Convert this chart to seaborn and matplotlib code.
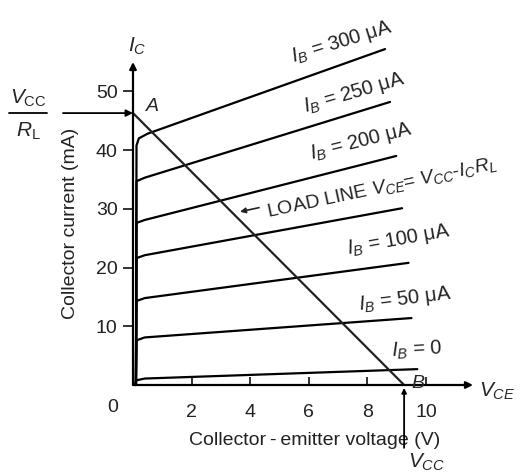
import pandas as pd
import seaborn as sns
import matplotlib.pyplot as plt

# collector characteristics (V, mA)
ib_names = ["0", "50", "100", "150", "200", "250", "300"]
vce_pts = [
    [0.05, 0.12, 0.4, 9.7],
    [0.1, 0.12, 0.4, 9.5],
    [0.1, 0.12, 0.4, 9.4],
    [0.1, 0.12, 0.4, 9.18],
    [0.1, 0.12, 0.4, 8.98],
    [0.1, 0.12, 0.4, 8.77],
    [0.1, 0.12, 0.2, 0.5, 8.6],
]
ic_pts = [
    [0.0, 0.8, 1.1, 2.7],
    [0.0, 7.6, 8.1, 11.4],
    [0.0, 14.3, 14.8, 20.8],
    [0.0, 21.6, 22.1, 30.1],
    [0.0, 27.6, 28.1, 39.0],
    [0.0, 34.7, 35.3, 48.2],
    [0.0, 40.8, 42.0, 42.8, 57.2],
]
load_v = [0.0, 9.25]
load_i = [46.3, 0.0]

curve_labels = [r"$I_B$ = 300 μA", r"$I_B$ = 250 μA", r"$I_B$ = 200 μA",
                r"$I_B$ = 100 μA", r"$I_B$ = 50 μA", r"$I_B$ = 0"]
label_v = [7.13, 7.54, 7.78, 9.05, 9.28, 9.7]
label_i = [58.4, 49.7, 41.4, 24.7, 14.6, 6.0]
label_rot = [17, 16, 14, 10, 7, 3]

rows = []
for name, vs, cs in zip(ib_names, vce_pts, ic_pts):
    for v, c in zip(vs, cs):
        rows.append({"IB": name, "VCE": v, "IC": c})
df = pd.DataFrame(rows)
load = pd.DataFrame({"VCE": load_v, "IC": load_i})

sns.set_style("white")
plt.rcParams["font.family"] = ["Liberation Sans", "DejaVu Sans"]
plt.rcParams["mathtext.fontset"] = "custom"
plt.rcParams["mathtext.rm"] = "Liberation Sans"
plt.rcParams["mathtext.it"] = "Liberation Sans:italic"

W, H = 522, 472
fig = plt.figure(figsize=(W / 100, H / 100), dpi=100)
ax = fig.add_axes([133 / W, 87 / H, 340 / W, 323 / H])

sns.lineplot(data=df, x="VCE", y="IC", units="IB", estimator=None, sort=False,
             color="black", lw=1.6, ax=ax, clip_on=False)
sns.lineplot(data=load, x="VCE", y="IC", color="#222222", lw=1.6, ax=ax)

ax.set_xlim(0, 11.6)
ax.set_ylim(0, 55)
for s in ax.spines.values():
    s.set_visible(False)

# axes drawn as arrows
ax.annotate("", xy=(11.6, 0), xytext=(0, 0), annotation_clip=False,
            arrowprops=dict(arrowstyle="-|>", color="black", lw=1.6, mutation_scale=10, shrinkA=0, shrinkB=0))
ax.annotate("", xy=(0, 55), xytext=(0, 0), annotation_clip=False,
            arrowprops=dict(arrowstyle="-|>", color="black", lw=1.6, mutation_scale=10, shrinkA=0, shrinkB=0))

ax.set_xticks([2, 4, 6, 8, 10])
ax.set_yticks([10, 20, 30, 40, 50])
ax.tick_params(axis="x", direction="in", length=6, width=1.3, pad=14, labelsize=14, colors="#222222")
ax.tick_params(axis="y", direction="out", length=7, width=1.3, pad=4, labelsize=14, colors="#222222")
ax.tick_params(left=True, bottom=True)

ax.set_xlabel("Collector\u2009-\u2009emitter voltage (V)", fontsize=14, color="#222222", labelpad=6)
ax.set_ylabel("Collector current (mA)", fontsize=14, color="#222222", labelpad=12)
ax.xaxis.set_label_coords(0.535, -0.145)

for txt, v, c, r in zip(curve_labels, label_v, label_i, label_rot):
    ax.text(v, c, txt, fontsize=14.5, rotation=r, rotation_mode="anchor",
            ha="center", va="center", color="#222222", clip_on=False)

ax.text(8.5, 33.6, "LOAD LINE $V_{CE}$= $V_{CC}$-$I_CR_L$", fontsize=14, rotation=12,
        rotation_mode="anchor", ha="center", va="center", color="#222222", clip_on=False)
ax.annotate("", xy=(3.65, 29.5), xytext=(4.3, 30.2),
            arrowprops=dict(arrowstyle="-|>", color="#222222", lw=1.2, mutation_scale=8, shrinkA=0, shrinkB=0))

ax.text(0.65, 47.4, "A", fontsize=14, style="italic", ha="center", va="center")
ax.text(9.73, 0.3, "B", fontsize=14, style="italic", ha="center", va="center")

fig.text(113 / W, 1 - 408 / H, "0", fontsize=14, ha="center", va="center", color="#222222")
fig.text(137 / W, 1 - 46 / H, "$I_C$", fontsize=15, ha="center", va="center")
fig.text(497 / W, 1 - 391 / H, "$V_{CE}$", fontsize=15, ha="center", va="center")
fig.text(427 / W, 1 - 462 / H, "$V_{CC}$", fontsize=15, ha="center", va="center")

# V_CC / R_L on the left
fig.text(28 / W, 1 - 98 / H, r"$V_{\rm CC}$", fontsize=15, ha="center", va="center")
fig.text(28 / W, 1 - 131 / H, r"$R_{\rm L}$", fontsize=15, ha="center", va="center")
fig.add_artist(plt.Line2D([9 / W, 47 / W], [1 - 113 / H, 1 - 113 / H], color="black", lw=1.3))
ax.annotate("", xy=(0, 46.3), xytext=(-70 / 29.3, 46.3), annotation_clip=False,
            arrowprops=dict(arrowstyle="-|>", color="black", lw=1.3, mutation_scale=10, shrinkA=0, shrinkB=0))

# V_CC arrow below B
ax.annotate("", xy=(9.25, -0.5), xytext=(9.25, -10.7), annotation_clip=False,
            arrowprops=dict(arrowstyle="-|>", color="black", lw=1.3, mutation_scale=7, shrinkA=0, shrinkB=0))

if ax.get_legend() is not None:
    ax.get_legend().remove()

fig.savefig("out.png", dpi=100)
